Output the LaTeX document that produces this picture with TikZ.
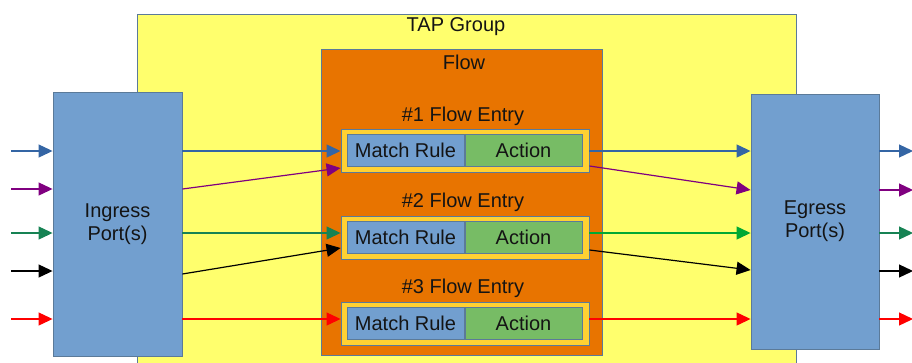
\documentclass[tikz,border=0pt]{standalone}
\usepackage{fontspec}
\setmainfont{Liberation Sans}
\usetikzlibrary{arrows.meta}
\definecolor{tapyellow}{HTML}{FFFF6D}
\definecolor{floworange}{HTML}{E87400}
\definecolor{boxblue}{HTML}{729FCF}
\definecolor{boxgreen}{HTML}{77BC65}
\definecolor{entrygold}{HTML}{FFD133}
\definecolor{edgegrey}{HTML}{5B7A99}
\definecolor{lblue}{HTML}{3465A4}
\definecolor{lpurple}{HTML}{800080}
\definecolor{lteal}{HTML}{168253}
\definecolor{lgreen}{HTML}{00A933}
\definecolor{lred}{HTML}{FF0000}
\tikzset{
  box/.style={draw=edgegrey, line width=0.9pt, inner sep=0pt, font=\fontsize{20}{23}\selectfont, text=black!92},
  port/.style={box, fill=boxblue, minimum width=#1, align=center},
  conn/.style={line width=1.2pt, -{Triangle[length=14pt,width=13pt]}},
  lbl/.style={font=\fontsize{20}{23}\selectfont, text=black!92, inner sep=0pt}
}
\begin{document}
\begin{tikzpicture}[x=1pt,y=-1pt]
\useasboundingbox (0,0) rectangle (912,362);
\clip (0,0) rectangle (912,362);
% TAP group
\node[box, fill=tapyellow, minimum width=659pt, minimum height=356pt] (tap) at (466.5,192) {};
\node[lbl] (taplbl) at (456,27) {TAP Group};
% Flow
\node[box, fill=floworange, minimum width=281pt, minimum height=306pt] (flow) at (462,202.5) {};
\node[lbl] (flowlbl) at (464,62) {Flow};
% Entries
\foreach \i/\y/\ly in {1/150.5/116, 2/237.5/202, 3/323.5/288} {
  \node[lbl] (el\i) at (463,\ly) {\#\i{} Flow Entry};
  \node[box, fill=entrygold, minimum width=248pt, minimum height=43pt] (e\i) at (465,\y) {};
  \node[box, fill=boxblue, minimum width=117pt, minimum height=32pt] (m\i) at (405.5,\y) {Match Rule};
  \node[box, fill=boxgreen, minimum width=117pt, minimum height=32pt] (a\i) at (523.5,\y) {Action};
}
% Ports
\node[port=129pt, minimum height=264pt] (ing) at (117.5,224) {Ingress\\Port(s)};
\node[port=128pt, minimum height=255pt] (egr) at (815,221.5) {Egress\\Port(s)};
% coordinates
\coordinate (in1) at (11,151);
\coordinate (in2) at (11,189);
\coordinate (in3) at (11,233);
\coordinate (in4) at (11,271);
\coordinate (in5) at (11,319);
\coordinate (out1) at (913,151);
\coordinate (out2) at (913,190);
\coordinate (out3) at (913,233);
\coordinate (out4) at (913,271);
\coordinate (out5) at (913,319);
% inputs
\draw[conn, lblue] (in1) -- (ing.west |- in1);
\draw[conn, lpurple] (in2) -- (ing.west |- in2);
\draw[conn, lteal] (in3) -- (ing.west |- in3);
\draw[conn, black] (in4) -- (ing.west |- in4);
\draw[conn, lred] (in5) -- (ing.west |- in5);
% ingress to entries
\draw[conn, lblue] (ing.east |- in1) -- (e1.west |- in1);
\draw[conn, lpurple] (ing.east |- in2) -- ([yshift=-17.5pt]e1.west);
\draw[conn, lteal] (ing.east |- in3) -- (e2.west |- in3);
\draw[conn, black] (ing.east |- 0,274) -- ([yshift=-10.5pt]e2.west);
\draw[conn, lred] (ing.east |- in5) -- (e3.west |- in5);
% entries to egress
\draw[conn, lblue] (e1.east |- in1) -- (egr.west |- in1);
\draw[conn, lpurple] ([yshift=-15.5pt]e1.east) -- (egr.west |- out2);
\draw[conn, lgreen] (e2.east |- in3) -- (egr.west |- in3);
\draw[conn, black] ([yshift=-12.5pt]e2.east) -- (egr.west |- 0,270);
\draw[conn, lred] (e3.east |- in5) -- (egr.west |- in5);
% outputs
\draw[conn, lblue] (egr.east |- out1) -- (out1);
\draw[conn, lpurple] (egr.east |- out2) -- (out2);
\draw[conn, lteal] (egr.east |- out3) -- (out3);
\draw[conn, black] (egr.east |- out4) -- (out4);
\draw[conn, lred] (egr.east |- out5) -- (out5);
\end{tikzpicture}
\end{document}
